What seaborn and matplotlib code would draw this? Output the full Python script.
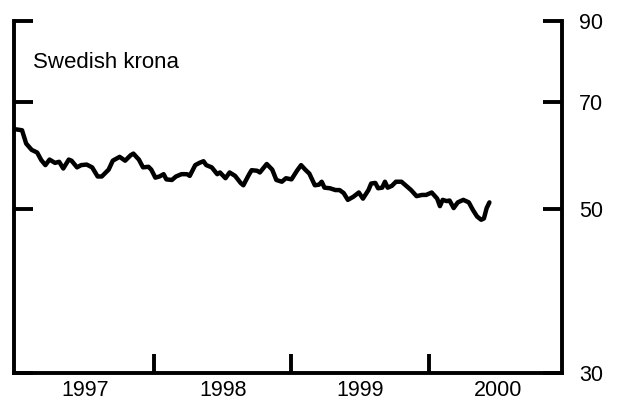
import numpy as np
import pandas as pd
import seaborn as sns
import matplotlib
matplotlib.use("Agg")
import matplotlib.pyplot as plt
from matplotlib.ticker import FixedLocator, FixedFormatter, NullFormatter

# chart data (decimal year, krona index)
years = [1996.99, 1997.04, 1997.07, 1997.11, 1997.15, 1997.18, 1997.21, 1997.24,
         1997.28, 1997.31, 1997.34, 1997.38, 1997.40, 1997.44, 1997.47, 1997.51,
         1997.55, 1997.59, 1997.62, 1997.67, 1997.70, 1997.75, 1997.79, 1997.83,
         1997.85, 1997.89, 1997.92, 1997.96, 1997.98, 1998.01, 1998.04, 1998.07,
         1998.09, 1998.13, 1998.16, 1998.20, 1998.24, 1998.26, 1998.30, 1998.33,
         1998.36, 1998.38, 1998.42, 1998.46, 1998.48, 1998.52, 1998.55, 1998.59,
         1998.63, 1998.65, 1998.69, 1998.71, 1998.75, 1998.77, 1998.82, 1998.86,
         1998.89, 1998.93, 1998.96, 1999.00, 1999.04, 1999.07, 1999.10, 1999.13,
         1999.17, 1999.20, 1999.22, 1999.24, 1999.28, 1999.32, 1999.35, 1999.38,
         1999.41, 1999.45, 1999.49, 1999.52, 1999.56, 1999.58, 1999.61, 1999.63,
         1999.66, 1999.68, 1999.70, 1999.73, 1999.76, 1999.80, 1999.84, 1999.87,
         1999.91, 1999.95, 1999.98, 2000.02, 2000.06, 2000.08, 2000.10, 2000.13,
         2000.15, 2000.18, 2000.21, 2000.25, 2000.29, 2000.32, 2000.35, 2000.38,
         2000.40, 2000.42, 2000.44]
krona = [64.2, 64.0, 61.4, 60.2, 59.7, 58.3, 57.4, 58.4,
         57.8, 58.0, 56.8, 58.4, 58.2, 57.0, 57.4, 57.5,
         57.0, 55.4, 55.4, 56.6, 58.2, 58.9, 58.2, 59.2,
         59.5, 58.4, 57.0, 57.1, 56.6, 55.2, 55.4, 55.8,
         54.9, 54.8, 55.4, 55.8, 55.8, 55.5, 57.4, 57.8,
         58.1, 57.4, 57.0, 55.8, 56.1, 55.1, 56.1, 55.5,
         54.3, 53.9, 55.7, 56.5, 56.4, 56.1, 57.6, 56.6,
         54.8, 54.5, 55.1, 54.9, 56.4, 57.4, 56.6, 55.9,
         53.9, 54.0, 54.5, 53.5, 53.4, 53.1, 53.1, 52.6,
         51.5, 52.0, 52.7, 51.7, 53.1, 54.2, 54.3, 53.4,
         53.5, 54.5, 53.5, 53.8, 54.5, 54.5, 53.7, 53.1,
         52.1, 52.3, 52.3, 52.7, 51.7, 50.5, 51.5, 51.3,
         51.4, 50.2, 51.1, 51.5, 51.1, 49.9, 48.9, 48.4,
         48.6, 50.2, 51.1]

year_labels = ["1997", "1998", "1999", "2000"]
year_bounds = [1998, 1999, 2000]
y_ticks = [30, 50, 70, 90]
title = "Swedish krona"

df = pd.DataFrame({"year": years, "krona": krona})

sns.set_style("white")
plt.rcParams["font.family"] = ["Liberation Sans", "DejaVu Sans"]
plt.rcParams["text.color"] = "black"
plt.rcParams["xtick.color"] = "black"
plt.rcParams["ytick.color"] = "black"

fig = plt.figure(figsize=(6.32, 4.01), dpi=100)
ax = fig.add_axes([0.0229, 0.0698, 0.867, 0.8778])

sns.lineplot(data=df, x="year", y="krona", color="black", linewidth=3.2, ax=ax)

ax.set_yscale("log")
ax.set_ylim(30, 90)
ax.set_xlim(1996.985, 2000.971)
ax.set_xlabel("")
ax.set_ylabel("")

# spines: no top line, only stubs at 90
for side in ["left", "right", "bottom"]:
    ax.spines[side].set_visible(True)
    ax.spines[side].set_linewidth(2.8)
    ax.spines[side].set_color("black")
ax.spines["top"].set_visible(False)

# y axis: labels on the right, inward ticks on both sides
ax.yaxis.set_major_locator(FixedLocator(y_ticks))
ax.yaxis.set_major_formatter(FixedFormatter([str(v) for v in y_ticks]))
ax.yaxis.set_minor_locator(FixedLocator([90]))
ax.yaxis.set_minor_formatter(NullFormatter())
ax.tick_params(axis="y", which="major", direction="in", length=14, width=2.8,
               left=True, right=True, labelleft=False, labelright=True,
               labelsize=15.5, pad=12, colors="black")
ax.tick_params(axis="y", which="minor", direction="in", length=28.5, width=2.8,
               left=True, right=True, color="black")

# x axis: ticks at year boundaries, labels mid-year
ax.xaxis.set_major_locator(FixedLocator(year_bounds))
ax.xaxis.set_major_formatter(NullFormatter())
ax.xaxis.set_minor_locator(FixedLocator([int(y) + 0.5 for y in year_labels]))
ax.xaxis.set_minor_formatter(FixedFormatter(year_labels))
ax.tick_params(axis="x", which="major", direction="in", length=14, width=2.8,
               bottom=True, color="black")
ax.tick_params(axis="x", which="minor", length=0, labelsize=15.5, pad=5,
               labelcolor="black")

ax.text(0.034, 0.883, title, transform=ax.transAxes, fontsize=16,
        va="center", ha="left", color="black")

fig.savefig("out.png", dpi=100)
plt.close()
